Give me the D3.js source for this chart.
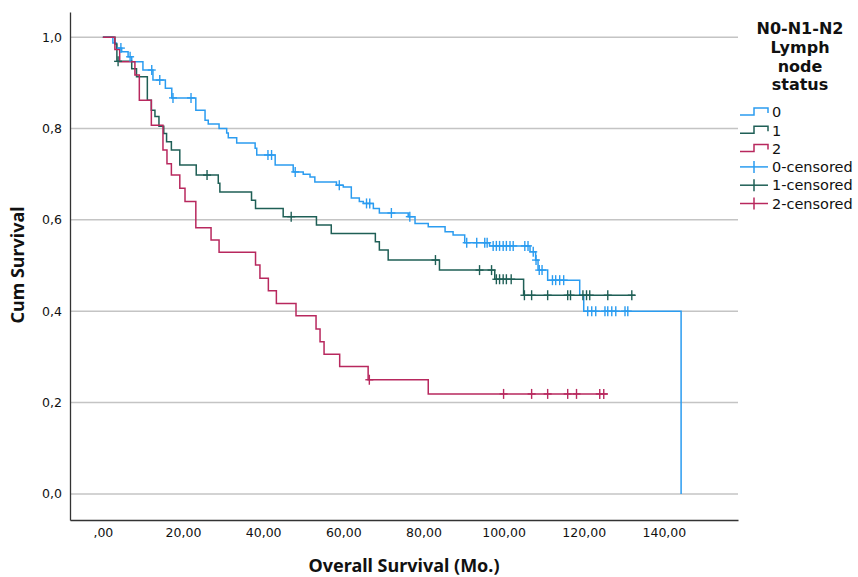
<!DOCTYPE html>
<html>
<head>
<meta charset="utf-8">
<script src="https://cdn.jsdelivr.net/npm/d3@7"></script>
<style>
  body { margin: 0; background: #fff; }
  svg { display: block; }
  text { font-family: "DejaVu Sans", sans-serif; fill: #111; }
</style>
</head>
<body>
<svg id="chart" width="858" height="577"></svg>
<script>
// Kaplan-Meier steps: [months, cum survival after the drop]
var steps0 = [[0,1],[2.5,0.987],[3.4,0.976],[4.7,0.968],[6.3,0.957],[7.2,0.946],[10,0.928],[12.5,0.906],
  [15.6,0.888],[17.2,0.867],[23.2,0.84],[25.5,0.818],[26.3,0.81],[29,0.8],[30.9,0.79],[31.3,0.78],
  [33.4,0.768],[38,0.757],[38.4,0.742],[43,0.72],[47.5,0.705],[50,0.7],[51.7,0.694],[52.9,0.683],
  [58.3,0.676],[60,0.672],[62,0.648],[64,0.64],[65,0.636],[67.5,0.625],[69,0.615],[76.2,0.607],
  [77.9,0.592],[81.2,0.585],[85.4,0.574],[87.4,0.567],[90.3,0.55],[96.5,0.543],[106.6,0.53],
  [108,0.512],[108.6,0.49],[111,0.468],[119,0.435],[120,0.4],[144.3,0]];
var steps1 = [[0,1],[3,0.985],[3.5,0.947],[7.2,0.931],[8.4,0.913],[11.1,0.862],[12.1,0.84],[13,0.826],
  [14,0.805],[15.2,0.789],[15.9,0.771],[17.1,0.753],[19.2,0.72],[23.3,0.698],[28.8,0.68],[29.2,0.661],
  [37.1,0.643],[38.1,0.625],[45,0.607],[53.3,0.589],[57,0.57],[68,0.552],[69,0.534],[71.2,0.512],
  [84,0.49],[97.8,0.47],[105,0.435]];
var steps2 = [[0,1],[3,0.973],[4.2,0.946],[8,0.917],[9.1,0.862],[12.1,0.807],[15,0.753],[16,0.723],
  [17.1,0.698],[19.2,0.669],[20.5,0.64],[23.2,0.583],[27,0.556],[29,0.529],[38.1,0.501],[39.2,0.472],
  [41.3,0.445],[43.3,0.417],[48.2,0.39],[53.2,0.361],[54.2,0.333],[55.2,0.306],[59.1,0.279],
  [66.2,0.25],[81.2,0.219]];
// last follow-up time of each curve
var lastTime = [144.3, 132.8, 126];
// censored times (months)
var cens0 = [4.5,6.8,12.2,14.2,17.5,22,41.2,42.1,48,59,65.8,66.6,72,76.6,90.8,93.3,95.3,95.9,97.4,98.2,
  99,99.9,100.7,101.6,102.4,105.3,106.1,107.4,108.1,108.9,109.6,112.2,113,114,115,121,122,123,125.3,
  126,127,128,130.3,131];
var cens1 = [3.8,26,47,83,94,97,98.2,99,99.9,100.7,101.9,105.2,107,111,116,116.7,119.8,120.7,121.5,126,132];
var cens2 = [66.5,100,107,111,116,118.2,124,125];

var groups = ["0", "1", "2"];
var legendTitle = ["N0-N1-N2", "Lymph", "node", "status"];
var colors = ["#2b9cf0", "#1f5f56", "#b8285e"];
var xTicks = [0, 20, 40, 60, 80, 100, 120, 140];
var yTicks = [0, 0.2, 0.4, 0.6, 0.8, 1.0];

var svg = d3.select("#chart");
var x = d3.scaleLinear().domain([-8.2, 158.5]).range([70, 738]);
var y = d3.scaleLinear().domain([-0.057, 1.055]).range([520, 12]);

// grid lines
svg.append("g").selectAll("line").data(yTicks).enter().append("line")
  .attr("x1", 70).attr("x2", 738)
  .attr("y1", function(d) { return y(d); }).attr("y2", function(d) { return y(d); })
  .attr("stroke", "#c4c4c4").attr("stroke-width", 1.5);

// axes
var gy = svg.append("g").attr("transform", "translate(70,0)")
  .call(d3.axisLeft(y).tickValues(yTicks).tickSize(0).tickPadding(8)
    .tickFormat(function(d) { return d3.format(".1f")(d).replace(".", ","); }));
var gx = svg.append("g").attr("transform", "translate(0,520)")
  .call(d3.axisBottom(x).tickValues(xTicks).tickSize(0).tickPadding(8)
    .tickFormat(function(d) { return d === 0 ? ",00" : d3.format(".2f")(d).replace(".", ","); }));
[gx, gy].forEach(function(g) {
  g.select(".domain").attr("stroke", "#333").attr("stroke-width", 1.3);
  g.selectAll("text").style("font-family", "DejaVu Sans, sans-serif").style("font-size", "12.5px").attr("fill", "#111");
});

svg.append("text").attr("x", 404).attr("y", 572).attr("text-anchor", "middle")
  .style("font-size", "18px").style("font-weight", "bold").style("font-family", "Noto Sans, sans-serif")
  .text("Overall Survival (Mo.)");
svg.append("text").attr("transform", "translate(24,265) rotate(-90)").attr("text-anchor", "middle")
  .style("font-size", "18px").style("font-weight", "bold").style("font-family", "Noto Sans, sans-serif")
  .text("Cum Survival");

// curves
var stepsAll = [steps0, steps1, steps2];
var censAll = [cens0, cens1, cens2];
var line = d3.line().x(function(d) { return x(d[0]); }).y(function(d) { return y(d[1]); }).curve(d3.curveStepAfter);

function survAt(steps, t) {
  var v = 1;
  steps.forEach(function(s) { if (s[0] <= t) v = s[1]; });
  return v;
}

stepsAll.forEach(function(steps, i) {
  var pts = steps.slice();
  var last = pts[pts.length - 1];
  if (last[0] < lastTime[i]) pts.push([lastTime[i], last[1]]);
  svg.append("path").datum(pts).attr("d", line)
    .attr("fill", "none").attr("stroke", colors[i]).attr("stroke-width", 1.5);
});

stepsAll.forEach(function(steps, i) {
  var g = svg.append("g").attr("stroke", colors[i]).attr("stroke-width", 1.4);
  censAll[i].forEach(function(t) {
    var cx = x(t), cy = y(survAt(steps, t));
    g.append("line").attr("x1", cx).attr("x2", cx).attr("y1", cy - 5).attr("y2", cy + 5);
    g.append("line").attr("x1", cx - 4).attr("x2", cx + 4).attr("y1", cy).attr("y2", cy);
  });
});

// legend
var leg = svg.append("g");
legendTitle.forEach(function(s, i) {
  leg.append("text").attr("x", 800).attr("y", 34 + i * 18.8).attr("text-anchor", "middle")
    .style("font-size", "16px").style("font-weight", "bold").text(s);
});
var legItems = groups.concat(groups.map(function(g) { return g + "-censored"; }));
legItems.forEach(function(s, i) {
  var cy = 112 + i * 18.3, c = colors[i % 3];
  if (i < 3) {
    leg.append("path").attr("d", "M740," + (cy + 3) + "H754V" + (cy - 4) + "H768V" + (cy + 1))
      .attr("fill", "none").attr("stroke", c).attr("stroke-width", 1.5);
  } else {
    leg.append("line").attr("x1", 740).attr("x2", 768).attr("y1", cy).attr("y2", cy).attr("stroke", c).attr("stroke-width", 1.5);
    leg.append("line").attr("x1", 754).attr("x2", 754).attr("y1", cy - 6).attr("y2", cy + 6).attr("stroke", c).attr("stroke-width", 1.5);
  }
  leg.append("text").attr("x", 772).attr("y", cy).attr("dy", "0.36em")
    .style("font-size", "14.5px").text(s);
});
</script>
</body>
</html>
